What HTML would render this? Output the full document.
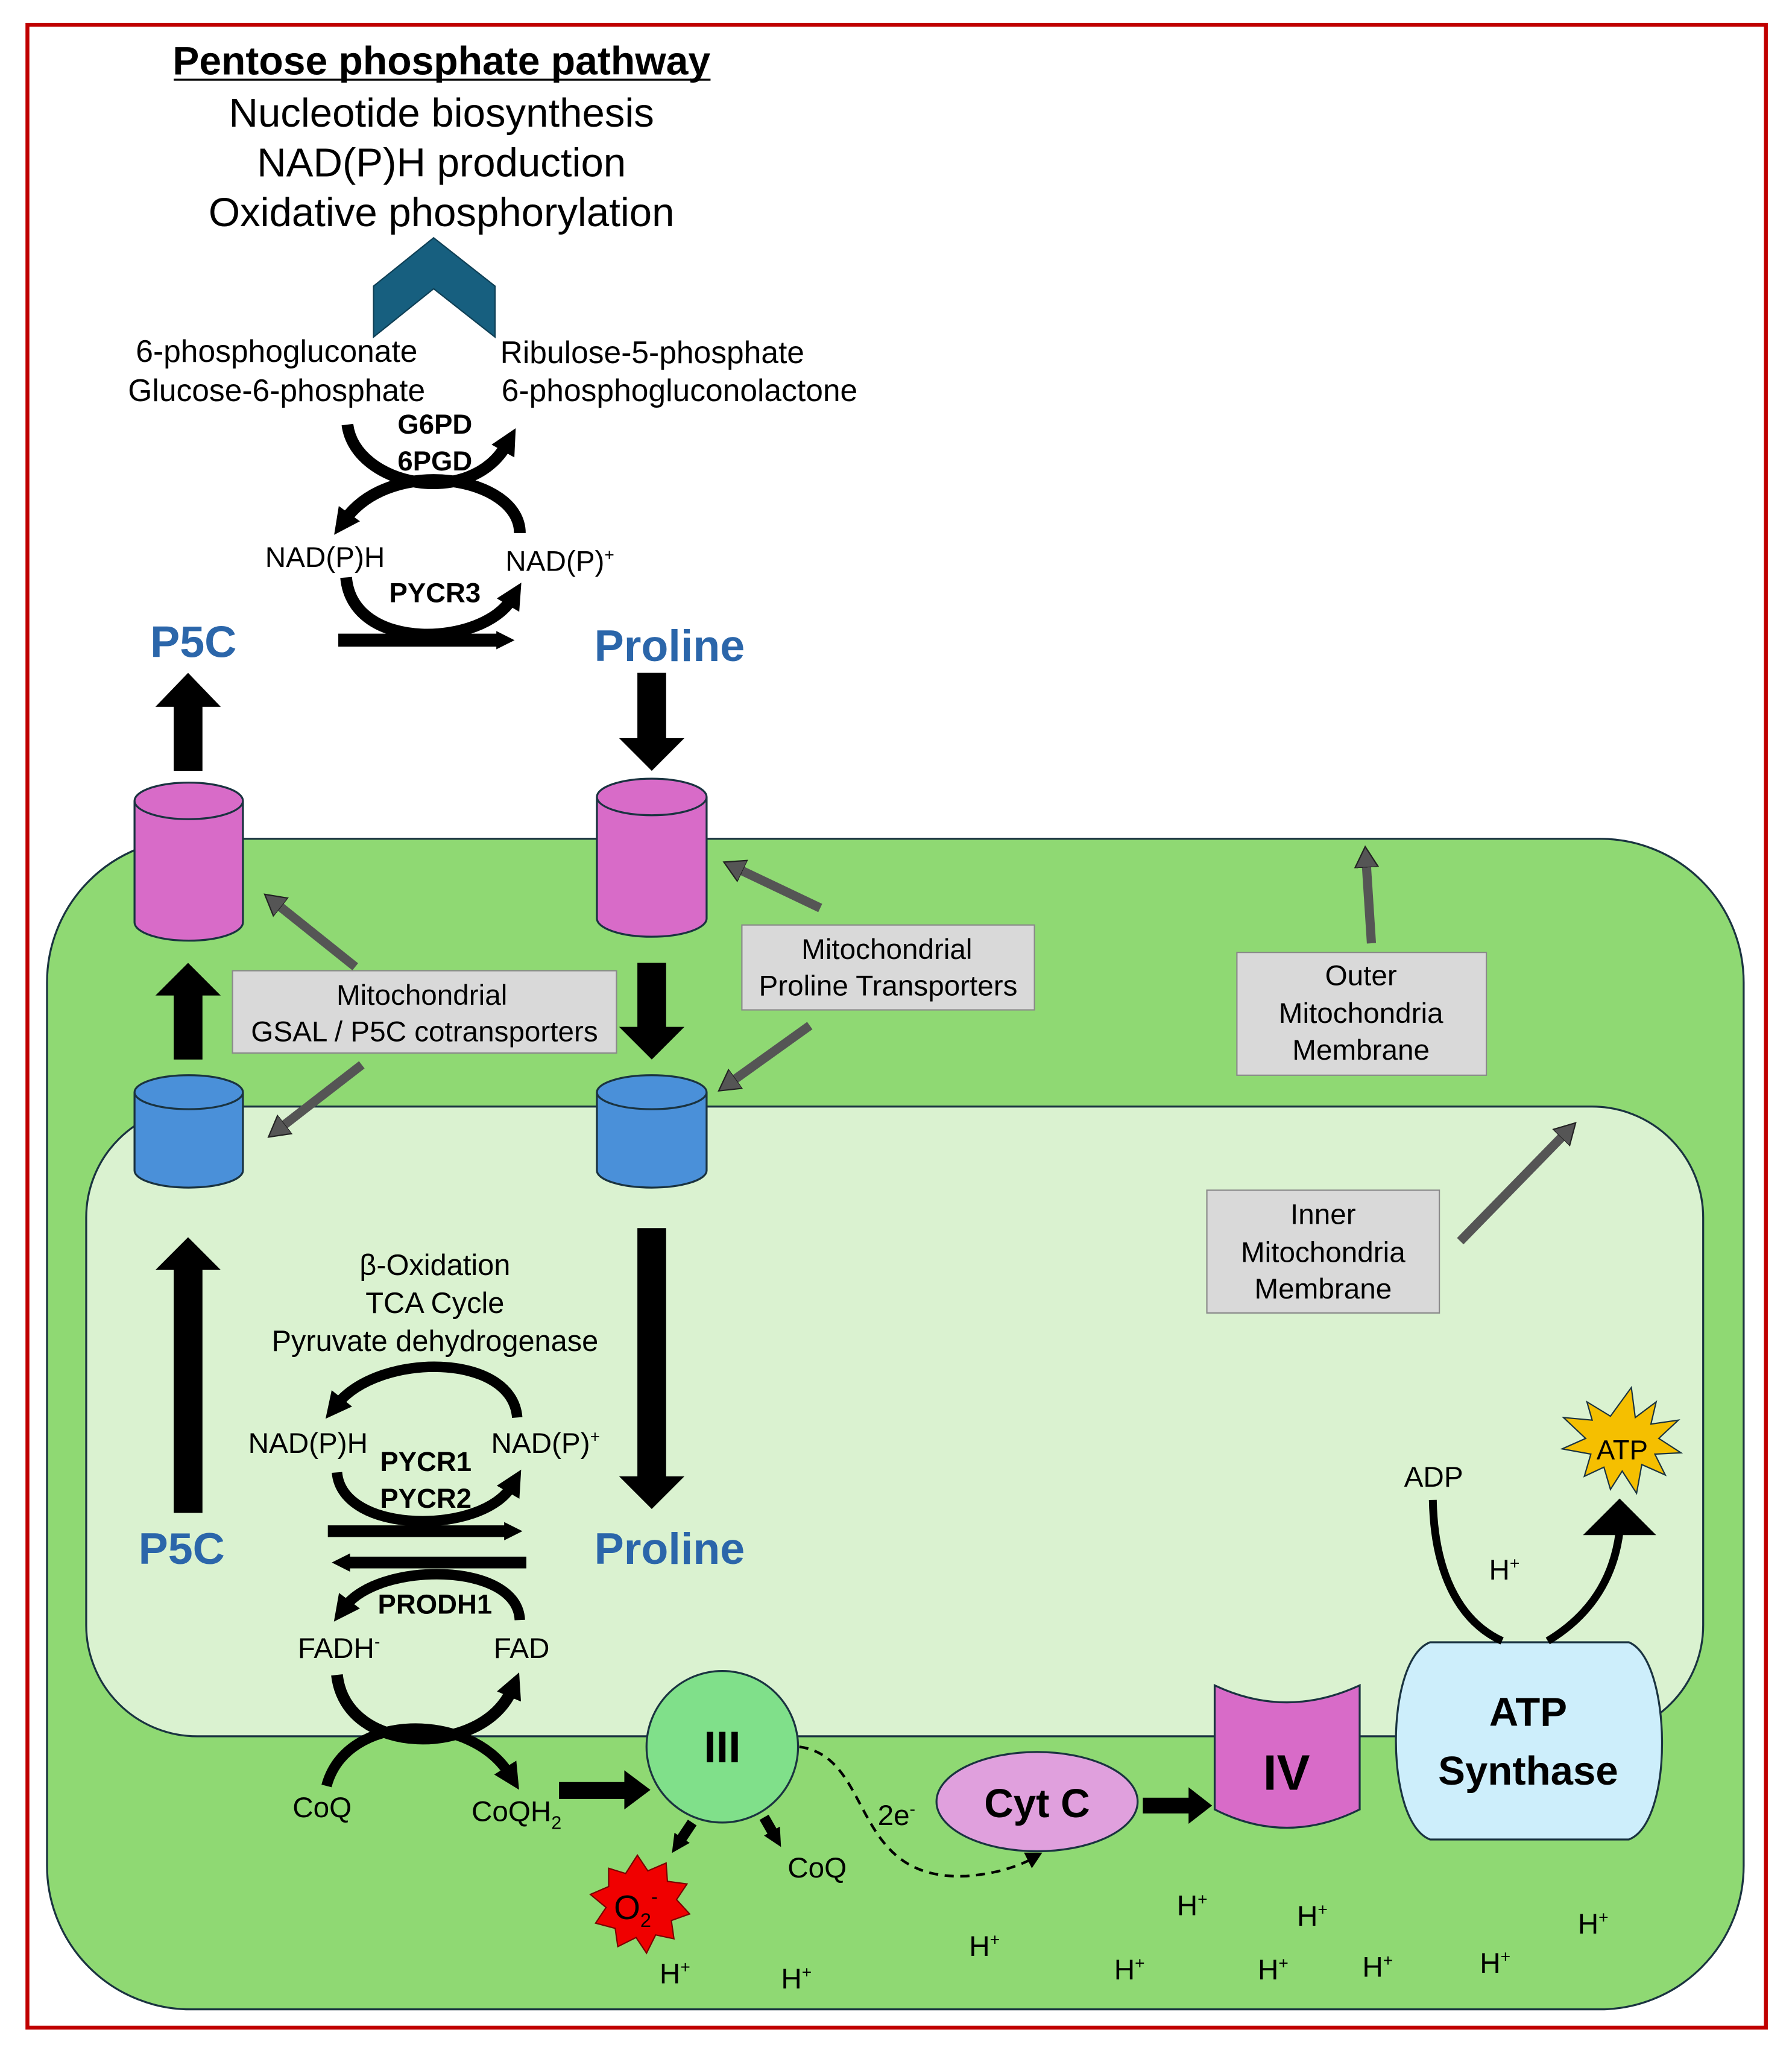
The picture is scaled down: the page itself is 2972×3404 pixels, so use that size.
<!DOCTYPE html>
<html><head><meta charset="utf-8"><style>
html,body{margin:0;padding:0;background:#fff}
svg{display:block}
text{font-family:"Liberation Sans",sans-serif;fill:#000}
</style></head><body>
<svg width="2972" height="3404" viewBox="0 0 1372 1571.4" preserveAspectRatio="none" xmlns="http://www.w3.org/2000/svg">
<defs>
<marker id="ah" markerUnits="userSpaceOnUse" markerWidth="24" markerHeight="24" refX="6" refY="12" orient="auto">
<path d="M0,2 L20,12 L0,22 Z" fill="#000"/>
</marker>
<marker id="ahs" markerUnits="userSpaceOnUse" markerWidth="16" markerHeight="16" refX="4" refY="8" orient="auto">
<path d="M0,1 L14,8 L0,15 Z" fill="#000"/>
</marker>
<marker id="gh" markerUnits="userSpaceOnUse" markerWidth="20" markerHeight="20" refX="4" refY="10" orient="auto">
<path d="M0,1 L16,10 L0,19 Z" fill="#555" stroke="#222" stroke-width="1"/>
</marker>
</defs>
<rect x="0" y="0" width="1372" height="1572" fill="#fff"/>
<rect x="21" y="19" width="1331" height="1533" fill="none" stroke="#c00000" stroke-width="3"/>

<rect x="36" y="642" width="1299" height="896" rx="110" fill="#8fd973" stroke="#1a3340" stroke-width="1.5"/>
<rect x="66" y="847" width="1238" height="482" rx="85" fill="#daf2d0" stroke="#1a3340" stroke-width="1.5"/>

<text x="338" y="57" font-size="30.5" font-weight="bold" text-anchor="middle">Pentose phosphate pathway</text>
<line x1="133" y1="61" x2="544" y2="61" stroke="#000" stroke-width="1.5"/>
<text x="338" y="97" font-size="31" text-anchor="middle">Nucleotide biosynthesis</text>
<text x="338" y="135" font-size="31" text-anchor="middle">NAD(P)H production</text>
<text x="338" y="173" font-size="31" text-anchor="middle">Oxidative phosphorylation</text>
<polygon points="286,258 286,219 332,182 379,219 379,258 332,221" fill="#175f7f" stroke="#0e3f55" stroke-width="1"/>

<g font-size="23.8">
<text x="104" y="277">6-phosphogluconate</text>
<text x="98" y="307">Glucose-6-phosphate</text>
<text x="383" y="278">Ribulose-5-phosphate</text>
<text x="384" y="307">6-phosphogluconolactone</text>
</g>
<text x="333" y="332" font-size="21" font-weight="bold" text-anchor="middle">G6PD</text>
<text x="333" y="360" font-size="21" font-weight="bold" text-anchor="middle">6PGD</text>

<path d="M266,325 C272,372 360,390 388,340" fill="none" stroke="#000" stroke-width="9" marker-end="url(#ah)"/>
<path d="M398,408 C398,365 300,348 264,398" fill="none" stroke="#000" stroke-width="9" marker-end="url(#ah)"/>
<text x="203" y="434" font-size="22">NAD(P)H</text>
<text x="387" y="437" font-size="22">NAD(P)<tspan font-size="13" dy="-8">+</tspan></text>
<text x="333" y="461" font-size="21" font-weight="bold" text-anchor="middle">PYCR3</text>
<path d="M265,442 C270,500 370,495 392,458" fill="none" stroke="#000" stroke-width="9" marker-end="url(#ah)"/>
<path d="M259,490 L384,490" stroke="#000" stroke-width="10" marker-end="url(#ahs)"/>

<text x="115" y="503" font-size="34" font-weight="bold" style="fill:#2b66aa">P5C</text>
<text x="455" y="506" font-size="34" font-weight="bold" style="fill:#2b66aa">Proline</text>

<polygon points="133,590 155,590 155,541 169,541 144,515 119,541 133,541" fill="#000"/>
<polygon points="488,515 510,515 510,565 524,565 499,590 474,565 488,565" fill="#000"/>

<g fill="#d86bc8" stroke="#1a3340" stroke-width="1.5">
<path d="M103,613 L103,706 A41.5,14 0 0 0 186,706 L186,613"/>
<ellipse cx="144.5" cy="613" rx="41.5" ry="14"/>
<path d="M457,610 L457,703 A42,14 0 0 0 541,703 L541,610"/>
<ellipse cx="499" cy="610" rx="42" ry="14"/>
</g>
<g fill="#4a90d9" stroke="#1a3340" stroke-width="1.5">
<path d="M103,836 L103,896 A41.5,13 0 0 0 186,896 L186,836"/>
<ellipse cx="144.5" cy="836" rx="41.5" ry="13"/>
<path d="M457,836 L457,896 A42,13 0 0 0 541,896 L541,836"/>
<ellipse cx="499" cy="836" rx="42" ry="13"/>
</g>

<polygon points="133,811 155,811 155,762 169,762 144,737 119,762 133,762" fill="#000"/>
<polygon points="488,737 510,737 510,786 524,786 499,811 474,786 488,786" fill="#000"/>

<g stroke="#555" stroke-width="7" fill="none">
<path d="M272,740 L212,692" marker-end="url(#gh)"/>
<path d="M277,815 L215,863" marker-end="url(#gh)"/>
<path d="M628,695 L565,665" marker-end="url(#gh)"/>
<path d="M620,785 L560,828" marker-end="url(#gh)"/>
<path d="M1050,722 L1046,660" marker-end="url(#gh)"/>
<path d="M1118,950 L1198,868" marker-end="url(#gh)"/>
</g>

<g fill="#d9d9d9" stroke="#8a8a8a" stroke-width="1">
<rect x="178" y="743" width="294" height="63"/>
<rect x="568" y="708" width="224" height="65"/>
<rect x="947" y="729" width="191" height="94"/>
<rect x="924" y="911" width="178" height="94"/>
</g>
<g font-size="22" text-anchor="middle">
<text x="323" y="769">Mitochondrial</text>
<text x="325" y="797">GSAL / P5C cotransporters</text>
<text x="679" y="734">Mitochondrial</text>
<text x="680" y="762">Proline Transporters</text>
<text x="1042" y="754">Outer</text>
<text x="1042" y="783">Mitochondria</text>
<text x="1042" y="811">Membrane</text>
<text x="1013" y="937">Inner</text>
<text x="1013" y="966">Mitochondria</text>
<text x="1013" y="994">Membrane</text>
</g>

<polygon points="488,940 510,940 510,1130 524,1130 499,1155 474,1130 488,1130" fill="#000"/>
<polygon points="133,1158 155,1158 155,972 169,972 144,947 119,972 133,972" fill="#000"/>

<g font-size="22.5" text-anchor="middle">
<text x="333" y="976">β-Oxidation</text>
<text x="333" y="1005">TCA Cycle</text>
<text x="333" y="1034">Pyruvate dehydrogenase</text>
</g>
<path d="M396,1085 C392,1035 290,1035 258,1075" fill="none" stroke="#000" stroke-width="8" marker-end="url(#ah)"/>
<text x="190" y="1112" font-size="22">NAD(P)H</text>
<text x="376" y="1112" font-size="22">NAD(P)<tspan font-size="13" dy="-8">+</tspan></text>
<text x="326" y="1126" font-size="21" font-weight="bold" text-anchor="middle">PYCR1</text>
<text x="326" y="1154" font-size="21" font-weight="bold" text-anchor="middle">PYCR2</text>
<path d="M258,1127 C262,1175 370,1175 392,1137" fill="none" stroke="#000" stroke-width="8" marker-end="url(#ah)"/>
<path d="M251,1172 L390,1172" stroke="#000" stroke-width="9" marker-end="url(#ahs)"/>
<path d="M403,1196 L264,1196" stroke="#000" stroke-width="9" marker-end="url(#ahs)"/>
<path d="M398,1240 C396,1195 290,1195 264,1230" fill="none" stroke="#000" stroke-width="8" marker-end="url(#ah)"/>
<text x="333" y="1235" font-size="21" font-weight="bold" text-anchor="middle">PRODH1</text>
<text x="106" y="1197" font-size="34" font-weight="bold" style="fill:#2b66aa">P5C</text>
<text x="455" y="1197" font-size="34" font-weight="bold" style="fill:#2b66aa">Proline</text>
<text x="228" y="1269" font-size="22">FADH<tspan font-size="13" dy="-8">-</tspan></text>
<text x="378" y="1269" font-size="22">FAD</text>
<path d="M258,1282 C265,1345 370,1345 392,1293" fill="none" stroke="#000" stroke-width="9" marker-end="url(#ah)"/>
<path d="M250,1367 C265,1310 360,1310 390,1358" fill="none" stroke="#000" stroke-width="8" marker-end="url(#ah)"/>
<text x="224" y="1391" font-size="22">CoQ</text>
<text x="361" y="1394" font-size="22">CoQH<tspan font-size="14" dy="6">2</tspan></text>
<polygon points="428,1364 478,1364 478,1355 498,1370 478,1385 478,1377 428,1377" fill="#000"/>

<circle cx="553" cy="1337" r="58" fill="#80e08a" stroke="#1a3340" stroke-width="1.5"/>
<text x="553" y="1349" font-size="34" font-weight="bold" text-anchor="middle">III</text>
<path d="M530,1395 L520,1410" stroke="#000" stroke-width="8" marker-end="url(#ahs)"/>
<path d="M585,1391 L593,1405" stroke="#000" stroke-width="8" marker-end="url(#ahs)"/>
<polygon fill="#f00000" stroke="#7a0000" stroke-width="1" points="488,1420 496,1432 510,1426 511,1440 526,1442 518,1454 528,1465 514,1470 516,1484 502,1481 495,1495 487,1483 473,1490 471,1476 456,1472 464,1460 452,1450 466,1444 466,1430 479,1434"/>
<text x="470" y="1469" font-size="26">O<tspan font-size="15" dy="6">2</tspan><tspan font-size="15" dy="-18">-</tspan></text>
<text x="603" y="1437" font-size="22">CoQ</text>
<path d="M612,1337 C670,1345 650,1440 740,1436 C765,1434 780,1428 792,1422" fill="none" stroke="#000" stroke-width="2" stroke-dasharray="7,5"/>
<polygon points="798,1418 784,1418 790,1430" fill="#000"/>
<text x="672" y="1397" font-size="22">2e<tspan font-size="13" dy="-8">-</tspan></text>

<ellipse cx="794" cy="1379" rx="77" ry="38" fill="#e0a0dd" stroke="#1a3340" stroke-width="1.5"/>
<text x="794" y="1391" font-size="31" font-weight="bold" text-anchor="middle">Cyt C</text>
<polygon points="875,1376 910,1376 910,1368 928,1382 910,1396 910,1388 875,1388" fill="#000"/>

<path d="M930,1290 Q985,1316 1041,1290 L1041,1385 Q985,1413 930,1385 Z" fill="#d86bc8" stroke="#1a3340" stroke-width="1.5"/>
<text x="985" y="1370" font-size="38" font-weight="bold" text-anchor="middle">IV</text>

<path d="M1095,1257 L1247,1257 C1280,1270 1282,1395 1247,1408 L1095,1408 C1060,1395 1060,1270 1095,1257 Z" fill="#cdeefb" stroke="#1a3340" stroke-width="1.5"/>
<text x="1170" y="1321" font-size="31" font-weight="bold" text-anchor="middle">ATP</text>
<text x="1170" y="1366" font-size="31" font-weight="bold" text-anchor="middle">Synthase</text>
<text x="1075" y="1138" font-size="22">ADP</text>
<text x="1140" y="1209" font-size="22">H<tspan font-size="13" dy="-8">+</tspan></text>
<path d="M1097,1148 C1098,1200 1115,1240 1150,1256" fill="none" stroke="#000" stroke-width="6"/>
<path d="M1185,1256 C1220,1235 1236,1205 1240,1172" fill="none" stroke="#000" stroke-width="6"/>
<polygon points="1240,1147 1268,1175 1212,1175" fill="#000"/>
<polygon fill="#f5bf00" stroke="#1a3340" stroke-width="1" points="1249,1062 1252,1085 1268,1073 1264,1090 1285,1087 1270,1101 1287,1112 1267,1113 1275,1129 1257,1121 1253,1143 1242,1126 1233,1140 1228,1123 1213,1130 1218,1113 1196,1109 1214,1101 1197,1085 1219,1087 1215,1073 1233,1084"/>
<text x="1242" y="1117" font-size="21" text-anchor="middle">ATP</text>

<g font-size="22">
<text x="505" y="1518">H<tspan font-size="13" dy="-8">+</tspan></text>
<text x="598" y="1522">H<tspan font-size="13" dy="-8">+</tspan></text>
<text x="742" y="1497">H<tspan font-size="13" dy="-8">+</tspan></text>
<text x="901" y="1466">H<tspan font-size="13" dy="-8">+</tspan></text>
<text x="993" y="1474">H<tspan font-size="13" dy="-8">+</tspan></text>
<text x="853" y="1515">H<tspan font-size="13" dy="-8">+</tspan></text>
<text x="963" y="1515">H<tspan font-size="13" dy="-8">+</tspan></text>
<text x="1043" y="1513">H<tspan font-size="13" dy="-8">+</tspan></text>
<text x="1133" y="1510">H<tspan font-size="13" dy="-8">+</tspan></text>
<text x="1208" y="1480">H<tspan font-size="13" dy="-8">+</tspan></text>
</g>
</svg>
</body></html>
